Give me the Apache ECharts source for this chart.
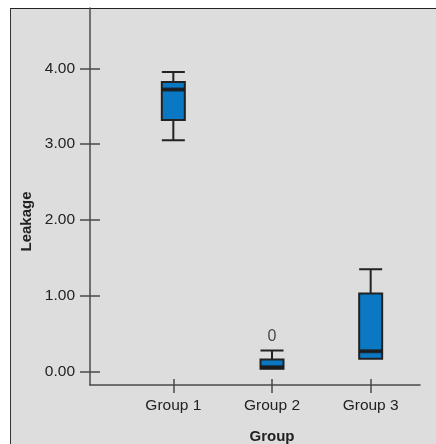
<!DOCTYPE html>
<html>
<head>
<meta charset="utf-8">
<script src="https://cdn.jsdelivr.net/npm/echarts@6/dist/echarts.min.js"></script>
<style>
  html, body { margin: 0; padding: 0; background: #fff; }
  #wrap { position: relative; width: 436px; height: 444px; overflow: hidden; }
  #frame { position: absolute; left: 10px; top: 8px; width: 440px; height: 450px;
           background: #dddddd; border-left: 1px solid #333; border-top: 1px solid #222; }
  #chart-container { position: absolute; left: 0; top: 0; width: 436px; height: 444px; }
</style>
</head>
<body>
<div id="wrap">
  <div id="frame"></div>
  <div id="chart-container"></div>
</div>
<script>
let categories = ["Group 1", "Group 2", "Group 3"];
let mins = [3.05, 0.04, 0.17];
let q1s = [3.32, 0.04, 0.17];
let medians = [3.72, 0.06, 0.27];
let q3s = [3.82, 0.16, 1.03];
let maxs = [3.95, 0.28, 1.35];
let outliers = [[1, 0.46, "0"]];
let yTicks = [0, 1, 2, 3, 4];

let dom = document.getElementById("chart-container");
let myChart = echarts.init(dom, null, { renderer: "canvas" });

let boxData = categories.map((c, i) => [mins[i], q1s[i], medians[i], q3s[i], maxs[i]]);
let medianData = categories.map((c, i) => [i, medians[i]]);

const axisColor = "#4a4a4a";
const textColor = "#222";
const fontName = "'Liberation Sans', Arial, sans-serif";
const yMin = -0.175;
const yMax = 4.795;

let option = {
    backgroundColor: "transparent",
    textStyle: { fontFamily: fontName },
    grid: [
        { left: 90, right: 16, top: 8, bottom: 59, containLabel: false, outerBoundsMode: "none" },
        { left: 124, right: 16, top: 8, bottom: 59, containLabel: false, outerBoundsMode: "none" },
    ],
    xAxis: [
        {
            gridIndex: 0, type: "value", min: 0, max: 1, position: "bottom",
            axisLine: { show: true, onZero: false, lineStyle: { color: axisColor, width: 1.5 } },
            axisTick: { show: false }, axisLabel: { show: false }, splitLine: { show: false },
        },
        {
            gridIndex: 1, type: "category", data: categories, boundaryGap: true, position: "bottom",
            axisLine: { show: false, onZero: false },
            axisTick: { show: true, alignWithLabel: true, length: 8, lineStyle: { color: axisColor, width: 1.5 } },
            axisLabel: { margin: 13, color: textColor, fontSize: 15.5 },
            name: "Group", nameLocation: "middle", nameGap: 44,
            nameTextStyle: { color: textColor, fontSize: 15, fontWeight: "bold" },
        },
        {
            gridIndex: 1, type: "category", data: categories, boundaryGap: true, position: "bottom",
            axisLine: { show: false, onZero: false },
            axisTick: { show: true, inside: true, alignWithLabel: true, length: 6, lineStyle: { color: axisColor, width: 1.5 } },
            axisLabel: { show: false },
        },
    ],
    yAxis: [
        {
            gridIndex: 0, type: "value", min: yMin, max: yMax, position: "left",
            axisLine: { show: true, onZero: false, lineStyle: { color: axisColor, width: 1.5 } },
            axisTick: { show: true, length: 10, customValues: yTicks, lineStyle: { color: axisColor, width: 1.5 } },
            axisLabel: {
                margin: 15, color: textColor, fontSize: 15.5, customValues: yTicks,
                formatter: (v) => v.toFixed(2),
            },
            splitLine: { show: false },
            name: "Leakage", nameLocation: "middle", nameGap: 49,
            nameTextStyle: { color: textColor, fontSize: 15, fontWeight: "bold", padding: [0, 50, 0, 0] },
        },
        {
            gridIndex: 0, type: "value", min: yMin, max: yMax, position: "left",
            axisLine: { show: false, onZero: false },
            axisTick: { show: true, inside: true, length: 10, customValues: yTicks, lineStyle: { color: axisColor, width: 1.5 } },
            axisLabel: { show: false }, splitLine: { show: false },
        },
        {
            gridIndex: 1, type: "value", min: yMin, max: yMax, show: false,
        },
    ],
    series: [
        {
            type: "boxplot",
            xAxisIndex: 1, yAxisIndex: 2,
            data: boxData,
            boxWidth: [23, 23],
            itemStyle: { color: "#0a78c2", borderColor: "#222", borderWidth: 2 },
            emphasis: { disabled: true },
        },
        {
            type: "scatter",
            xAxisIndex: 1, yAxisIndex: 2,
            data: medianData,
            symbol: "rect",
            symbolSize: [23, 4],
            itemStyle: { color: "#1a1a1a" },
            silent: true,
        },
        {
            type: "scatter",
            xAxisIndex: 1, yAxisIndex: 2,
            data: outliers.map((o) => ({ value: [o[0], o[1]], name: o[2] })),
            symbolSize: 0,
            label: {
                show: true, position: "inside", formatter: (p) => p.name,
                color: textColor, fontSize: 16,
            },
            silent: true,
        },
    ],
};

myChart.setOption(option);
window.addEventListener("resize", myChart.resize);
</script>
</body>
</html>
